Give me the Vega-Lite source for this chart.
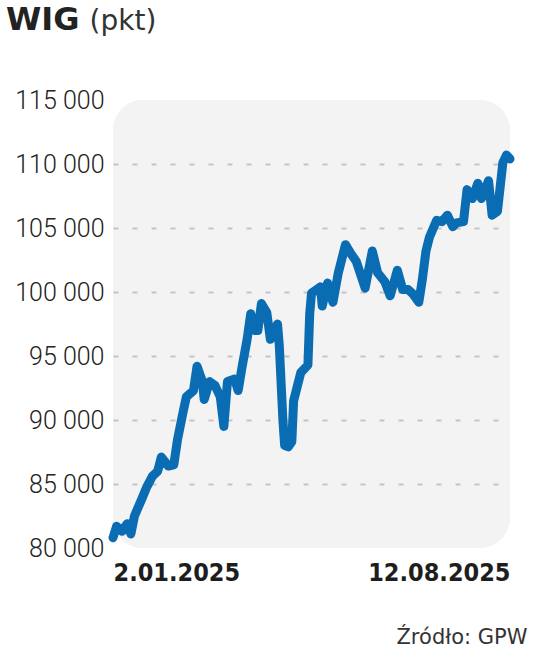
{
  "$schema": "https://vega.github.io/schema/vega-lite/v6.json",
  "width": 397,
  "height": 448,
  "autosize": {"type": "none"},
  "padding": {"left": 113, "top": 100, "right": 26, "bottom": 111},
  "background": "white",
  "config": {"view": {"fill": "#f3f3f3", "stroke": null, "cornerRadius": 30}},
  "title": {"text": "WIG", "anchor": "start", "frame": "group", "dx": -107, "dy": 34, "font": "DejaVu Sans", "fontWeight": "bold", "fontSize": 32, "color": "#222222"},
  "data": {"values": [
    {"date": "2025-01-02", "value": 80800},
    {"date": "2025-01-04", "value": 81700},
    {"date": "2025-01-07", "value": 81300},
    {"date": "2025-01-10", "value": 81900},
    {"date": "2025-01-12", "value": 81100},
    {"date": "2025-01-14", "value": 82500},
    {"date": "2025-01-18", "value": 83800},
    {"date": "2025-01-21", "value": 84800},
    {"date": "2025-01-24", "value": 85600},
    {"date": "2025-01-27", "value": 86000},
    {"date": "2025-01-29", "value": 87100},
    {"date": "2025-02-02", "value": 86400},
    {"date": "2025-02-05", "value": 86500},
    {"date": "2025-02-07", "value": 88400},
    {"date": "2025-02-10", "value": 90500},
    {"date": "2025-02-12", "value": 91800},
    {"date": "2025-02-16", "value": 92300},
    {"date": "2025-02-18", "value": 94200},
    {"date": "2025-02-21", "value": 93000},
    {"date": "2025-02-22", "value": 91600},
    {"date": "2025-02-25", "value": 93000},
    {"date": "2025-02-28", "value": 92700},
    {"date": "2025-03-03", "value": 91800},
    {"date": "2025-03-05", "value": 89500},
    {"date": "2025-03-07", "value": 93000},
    {"date": "2025-03-11", "value": 93200},
    {"date": "2025-03-13", "value": 92300},
    {"date": "2025-03-15", "value": 94000},
    {"date": "2025-03-18", "value": 96300},
    {"date": "2025-03-20", "value": 98300},
    {"date": "2025-03-22", "value": 97000},
    {"date": "2025-03-24", "value": 97000},
    {"date": "2025-03-26", "value": 99100},
    {"date": "2025-03-29", "value": 98400},
    {"date": "2025-03-31", "value": 96300},
    {"date": "2025-04-04", "value": 97500},
    {"date": "2025-04-05", "value": 95800},
    {"date": "2025-04-07", "value": 90000},
    {"date": "2025-04-08", "value": 88000},
    {"date": "2025-04-10", "value": 87900},
    {"date": "2025-04-12", "value": 88300},
    {"date": "2025-04-13", "value": 91500},
    {"date": "2025-04-17", "value": 93700},
    {"date": "2025-04-21", "value": 94300},
    {"date": "2025-04-22", "value": 98300},
    {"date": "2025-04-23", "value": 99900},
    {"date": "2025-04-28", "value": 100400},
    {"date": "2025-04-29", "value": 98900},
    {"date": "2025-05-02", "value": 100700},
    {"date": "2025-05-05", "value": 99200},
    {"date": "2025-05-08", "value": 101500},
    {"date": "2025-05-12", "value": 103700},
    {"date": "2025-05-15", "value": 103000},
    {"date": "2025-05-18", "value": 102400},
    {"date": "2025-05-23", "value": 100300},
    {"date": "2025-05-27", "value": 103200},
    {"date": "2025-05-30", "value": 101500},
    {"date": "2025-06-03", "value": 100800},
    {"date": "2025-06-06", "value": 99700},
    {"date": "2025-06-10", "value": 101700},
    {"date": "2025-06-13", "value": 100200},
    {"date": "2025-06-16", "value": 100200},
    {"date": "2025-06-19", "value": 99800},
    {"date": "2025-06-22", "value": 99200},
    {"date": "2025-06-24", "value": 101000},
    {"date": "2025-06-26", "value": 103200},
    {"date": "2025-06-28", "value": 104300},
    {"date": "2025-07-02", "value": 105600},
    {"date": "2025-07-05", "value": 105500},
    {"date": "2025-07-08", "value": 106000},
    {"date": "2025-07-11", "value": 105100},
    {"date": "2025-07-13", "value": 105400},
    {"date": "2025-07-17", "value": 105500},
    {"date": "2025-07-19", "value": 108000},
    {"date": "2025-07-22", "value": 107300},
    {"date": "2025-07-25", "value": 108500},
    {"date": "2025-07-27", "value": 107300},
    {"date": "2025-07-31", "value": 108700},
    {"date": "2025-08-02", "value": 106000},
    {"date": "2025-08-05", "value": 106300},
    {"date": "2025-08-08", "value": 110100},
    {"date": "2025-08-10", "value": 110700},
    {"date": "2025-08-12", "value": 110400}
  ]},
  "mark": {"type": "line", "color": "#0a6db4", "strokeWidth": 9, "strokeCap": "round", "strokeJoin": "round"},
  "encoding": {
    "x": {
      "field": "date",
      "type": "temporal",
      "scale": {"type": "utc", "domain": [{"year": 2025, "month": 1, "date": 2, "utc": true}, {"year": 2025, "month": 8, "date": 12, "utc": true}]},
      "axis": {
        "values": [{"year": 2025, "month": 1, "date": 2, "utc": true}, {"year": 2025, "month": 8, "date": 12, "utc": true}],
        "labelExpr": "utcFormat(datum.value, '%-d.%m.%Y')",
        "labelFlush": true,
        "labelFont": "DejaVu Sans Condensed",
        "labelFontWeight": "bold",
        "labelFontSize": 25,
        "labelColor": "#1e1e1e",
        "labelPadding": 12,
        "ticks": false,
        "domain": false,
        "grid": false,
        "title": "Źródło: GPW",
        "titleFont": "DejaVu Sans",
        "titleFontWeight": "normal",
        "titleFontSize": 21,
        "titleColor": "#333333",
        "titleAnchor": "end",
        "titleAlign": "right",
        "titleBaseline": "alphabetic",
        "titleX": 414,
        "titleY": 95
      }
    },
    "y": {
      "field": "value",
      "type": "quantitative",
      "scale": {"domain": [80000, 115000], "nice": false, "zero": false},
      "axis": {
        "values": [80000, 85000, 90000, 95000, 100000, 105000, 110000, 115000],
        "labelExpr": "replace(format(datum.value, ',d'), ',', ' ')",
        "labelFont": "Roboto",
        "labelFontWeight": 300,
        "labelFontSize": 25,
        "labelColor": "#222222",
        "labelPadding": 9,
        "ticks": false,
        "domain": false,
        "grid": true,
        "gridColor": "#c4c4c4",
        "gridDash": [5, 14],
        "gridWidth": 2,
        "gridOpacity": {"condition": {"test": "datum.value <= 80000 || datum.value >= 115000", "value": 0}, "value": 1},
        "title": "(pkt)",
        "titleAngle": 0,
        "titleAlign": "left",
        "titleBaseline": "alphabetic",
        "titleX": -24,
        "titleY": -71,
        "titleFont": "DejaVu Sans",
        "titleFontWeight": "normal",
        "titleFontSize": 28,
        "titleColor": "#333333"
      }
    }
  }
}
